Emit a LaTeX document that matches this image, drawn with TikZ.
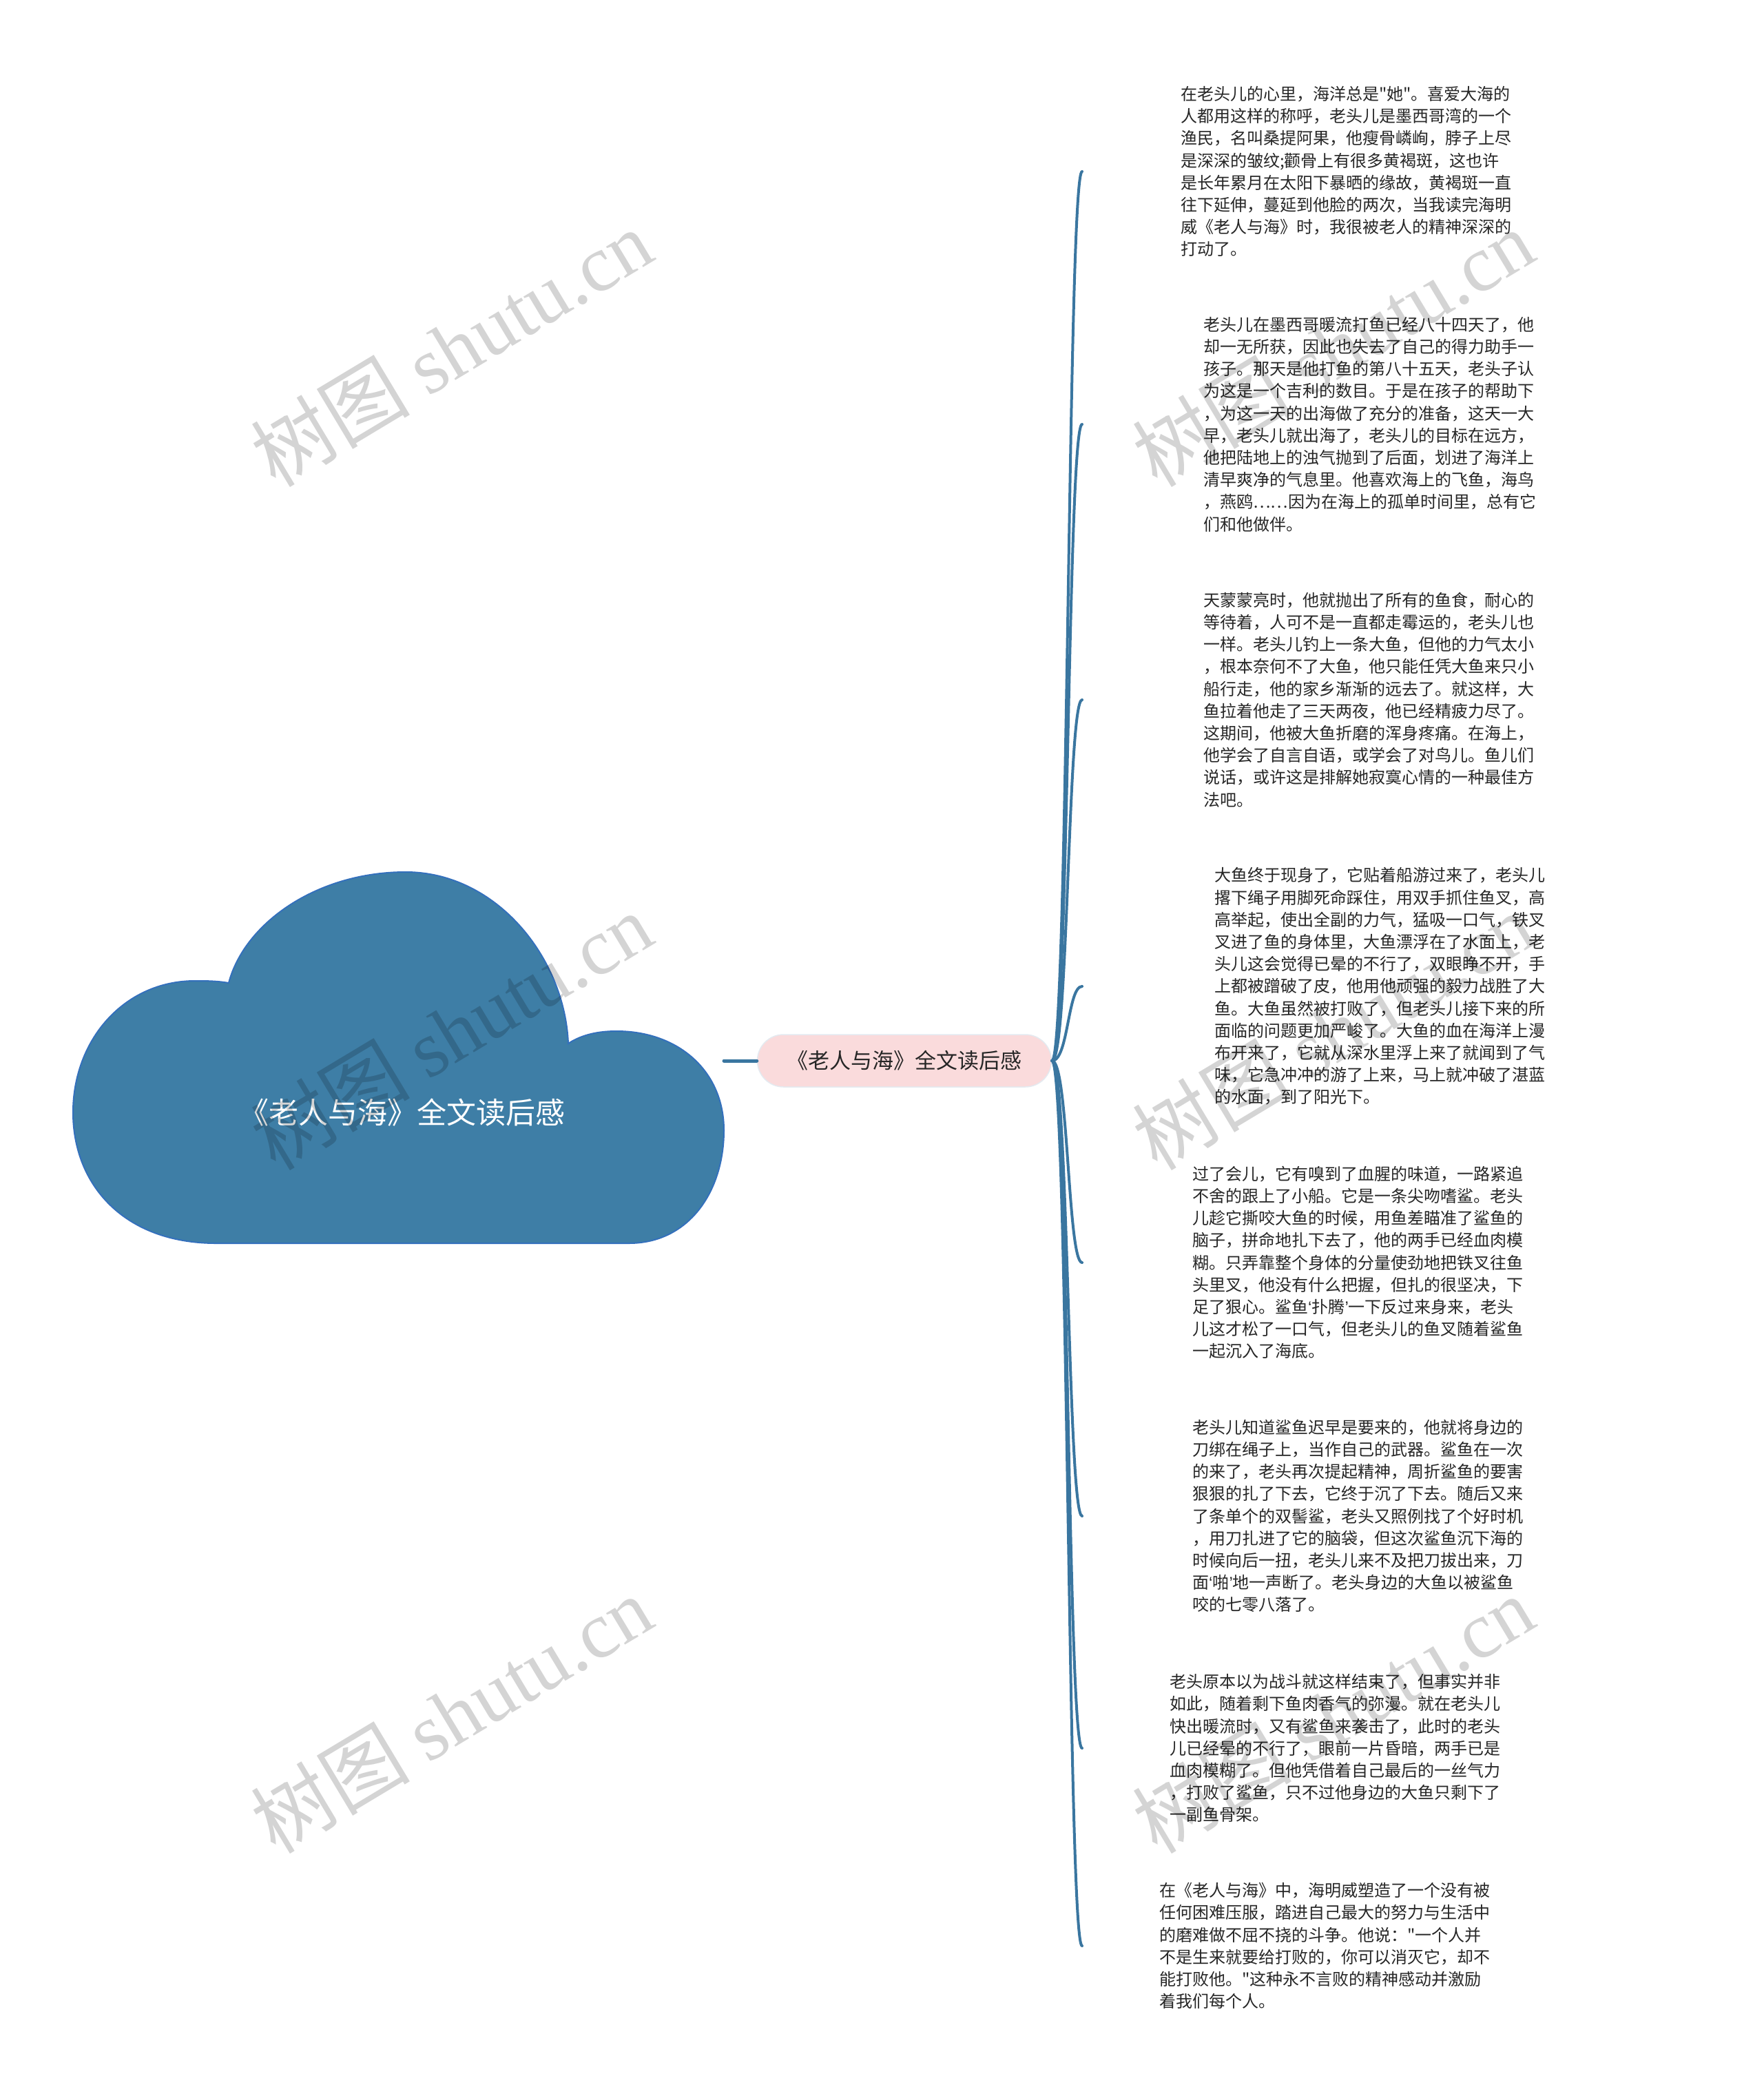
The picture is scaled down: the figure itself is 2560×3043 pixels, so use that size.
\documentclass[tikz,border=0pt]{standalone}
\usepackage{fontspec}
\setmainfont{Noto Sans CJK SC}[Ligatures=TeXOff]
\newfontfamily\wmfont{Liberation Serif}
\newfontfamily\quotefont{Liberation Sans}

\definecolor{cloudblue}{RGB}{62,126,166}
\definecolor{cloudedge}{RGB}{52,112,188}
\definecolor{branchblue}{RGB}{58,118,160}
\definecolor{topicpink}{RGB}{250,219,220}
\definecolor{topicedge}{RGB}{228,234,240}

\newcommand{\openq}{{\quotefont ‘}}
\newcommand{\closeq}{{\quotefont ’}}

\tikzset{
    rootlabel/.style={text=white, inner sep=0pt, font=\fontsize{43}{50}\selectfont},
    topic/.style={fill=topicpink, draw=topicedge, line width=1.5pt, rounded corners=38pt,
        minimum width=427pt, minimum height=76pt, inner sep=0pt, text=black!85,
        font=\fontsize{31}{36}\selectfont},
    leaf/.style={anchor=west, align=left, inner sep=0pt, text=black!85,
        font=\fontsize{24}{32.2}\selectfont},
    branch/.style={draw=branchblue, line width=4pt, line cap=round},
    watermark/.style={rotate=31, text=black, text opacity=0.17, inner sep=0pt,
        font=\fontsize{116}{120}\selectfont}
}

\begin{document}
\begin{tikzpicture}[x=1pt, y=-1pt]
                \useasboundingbox (0,0) rectangle (2560,3043);
                \fill[white] (0,0) rectangle (2560,3043);
                \filldraw[fill=cloudblue, draw=cloudedge, line width=2pt]
                    (314,1805) -- (913,1805)
                    .. controls (1000,1805) and (1051,1730) .. (1051,1641)
                    .. controls (1051,1555) and (985,1497) .. (895,1497)
                    .. controls (862,1497) and (840,1505) .. (825,1515)
                    .. controls (820,1390) and (720,1266) .. (589,1266)
                    .. controls (460,1266) and (355,1340) .. (332,1427)
                    .. controls (315,1424) and (298,1424) .. (283,1424)
                    .. controls (180,1424) and (106,1510) .. (106,1615)
                    .. controls (106,1720) and (180,1805) .. (314,1805) -- cycle;
                \node[rootlabel] (root) at (584,1615) {《老人与海》全文读后感};
                \coordinate (c0) at (1051,1540);
                \node[topic] (topic) at (1313,1540) {《老人与海》全文读后感};
                \draw[branch, line width=5pt] (c0) -- (topic.west);
                \node[leaf] (t1) at (1714,249) {在老头儿的心里，海洋总是"她"。喜爱大海的\\人都用这样的称呼，老头儿是墨西哥湾的一个\\渔民，名叫桑提阿果，他瘦骨嶙峋，脖子上尽\\是深深的皱纹;颧骨上有很多黄褐斑，这也许\\是长年累月在太阳下暴晒的缘故，黄褐斑一直\\往下延伸，蔓延到他脸的两次，当我读完海明\\威《老人与海》时，我很被老人的精神深深的\\打动了。};
                \node[leaf] (t2) at (1747,616) {老头儿在墨西哥暖流打鱼已经八十四天了，他\\却一无所获，因此也失去了自己的得力助手一\\孩子。那天是他打鱼的第八十五天，老头子认\\为这是一个吉利的数目。于是在孩子的帮助下\\，为这一天的出海做了充分的准备，这天一大\\早，老头儿就出海了，老头儿的目标在远方，\\他把陆地上的浊气抛到了后面，划进了海洋上\\清早爽净的气息里。他喜欢海上的飞鱼，海鸟\\，燕鸥……因为在海上的孤单时间里，总有它\\们和他做伴。};
                \node[leaf] (t3) at (1747,1016) {天蒙蒙亮时，他就抛出了所有的鱼食，耐心的\\等待着，人可不是一直都走霉运的，老头儿也\\一样。老头儿钓上一条大鱼，但他的力气太小\\，根本奈何不了大鱼，他只能任凭大鱼来只小\\船行走，他的家乡渐渐的远去了。就这样，大\\鱼拉着他走了三天两夜，他已经精疲力尽了。\\这期间，他被大鱼折磨的浑身疼痛。在海上，\\他学会了自言自语，或学会了对鸟儿。鱼儿们\\说话，或许这是排解她寂寞心情的一种最佳方\\法吧。};
                \node[leaf] (t4) at (1763,1432) {大鱼终于现身了，它贴着船游过来了，老头儿\\撂下绳子用脚死命踩住，用双手抓住鱼叉，高\\高举起，使出全副的力气，猛吸一口气，铁叉\\叉进了鱼的身体里，大鱼漂浮在了水面上，老\\头儿这会觉得已晕的不行了，双眼睁不开，手\\上都被蹭破了皮，他用他顽强的毅力战胜了大\\鱼。大鱼虽然被打败了，但老头儿接下来的所\\面临的问题更加严峻了。大鱼的血在海洋上漫\\布开来了，它就从深水里浮上来了就闻到了气\\味，它急冲冲的游了上来，马上就冲破了湛蓝\\的水面，到了阳光下。};
                \node[leaf] (t5) at (1731,1833) {过了会儿，它有嗅到了血腥的味道，一路紧追\\不舍的跟上了小船。它是一条尖吻嗜鲨。老头\\儿趁它撕咬大鱼的时候，用鱼差瞄准了鲨鱼的\\脑子，拼命地扎下去了，他的两手已经血肉模\\糊。只弄靠整个身体的分量使劲地把铁叉往鱼\\头里叉，他没有什么把握，但扎的很坚决，下\\足了狠心。鲨鱼\openq 扑腾\closeq 一下反过来身来，老头\\儿这才松了一口气，但老头儿的鱼叉随着鲨鱼\\一起沉入了海底。};
                \node[leaf] (t6) at (1731,2201) {老头儿知道鲨鱼迟早是要来的，他就将身边的\\刀绑在绳子上，当作自己的武器。鲨鱼在一次\\的来了，老头再次提起精神，周折鲨鱼的要害\\狠狠的扎了下去，它终于沉了下去。随后又来\\了条单个的双髻鲨，老头又照例找了个好时机\\，用刀扎进了它的脑袋，但这次鲨鱼沉下海的\\时候向后一扭，老头儿来不及把刀拔出来，刀\\面\openq 啪\closeq 地一声断了。老头身边的大鱼以被鲨鱼\\咬的七零八落了。};
                \node[leaf] (t7) at (1698,2538) {老头原本以为战斗就这样结束了，但事实并非\\如此，随着剩下鱼肉香气的弥漫。就在老头儿\\快出暖流时，又有鲨鱼来袭击了，此时的老头\\儿已经晕的不行了，眼前一片昏暗，两手已是\\血肉模糊了。但他凭借着自己最后的一丝气力\\，打败了鲨鱼，只不过他身边的大鱼只剩下了\\一副鱼骨架。};
                \node[leaf] (t8) at (1683,2825) {在《老人与海》中，海明威塑造了一个没有被\\任何困难压服，踏进自己最大的努力与生活中\\的磨难做不屈不挠的斗争。他说："一个人并\\不是生来就要给打败的，你可以消灭它，却不\\能打败他。"这种永不言败的精神感动并激励\\着我们每个人。};
                \coordinate (e1) at (1571,249);
                \coordinate (e2) at (1571,616);
                \coordinate (e3) at (1571,1016);
                \coordinate (e4) at (1571,1432);
                \coordinate (e5) at (1571,1833);
                \coordinate (e6) at (1571,2201);
                \coordinate (e7) at (1571,2538);
                \coordinate (e8) at (1571,2825);
                \draw[branch] (topic.east) .. controls +(24,0) and +(-21,0) .. (e1);
                \draw[branch] (topic.east) .. controls +(24,0) and +(-21,0) .. (e2);
                \draw[branch] (topic.east) .. controls +(24,0) and +(-21,0) .. (e3);
                \draw[branch] (topic.east) .. controls +(24,0) and +(-21,0) .. (e4);
                \draw[branch] (topic.east) .. controls +(24,0) and +(-21,0) .. (e5);
                \draw[branch] (topic.east) .. controls +(24,0) and +(-21,0) .. (e6);
                \draw[branch] (topic.east) .. controls +(24,0) and +(-21,0) .. (e7);
                \draw[branch] (topic.east) .. controls +(24,0) and +(-21,0) .. (e8);
                \node[watermark] (w1) at (655,505) {树图 {\wmfont shutu.cn}};
                \node[watermark] (w2) at (655,1497) {树图 {\wmfont shutu.cn}};
                \node[watermark] (w3) at (655,2489) {树图 {\wmfont shutu.cn}};
                \node[watermark] (w4) at (1935,505) {树图 {\wmfont shutu.cn}};
                \node[watermark] (w5) at (1935,1497) {树图 {\wmfont shutu.cn}};
                \node[watermark] (w6) at (1935,2489) {树图 {\wmfont shutu.cn}};
            \end{tikzpicture}
\end{document}
